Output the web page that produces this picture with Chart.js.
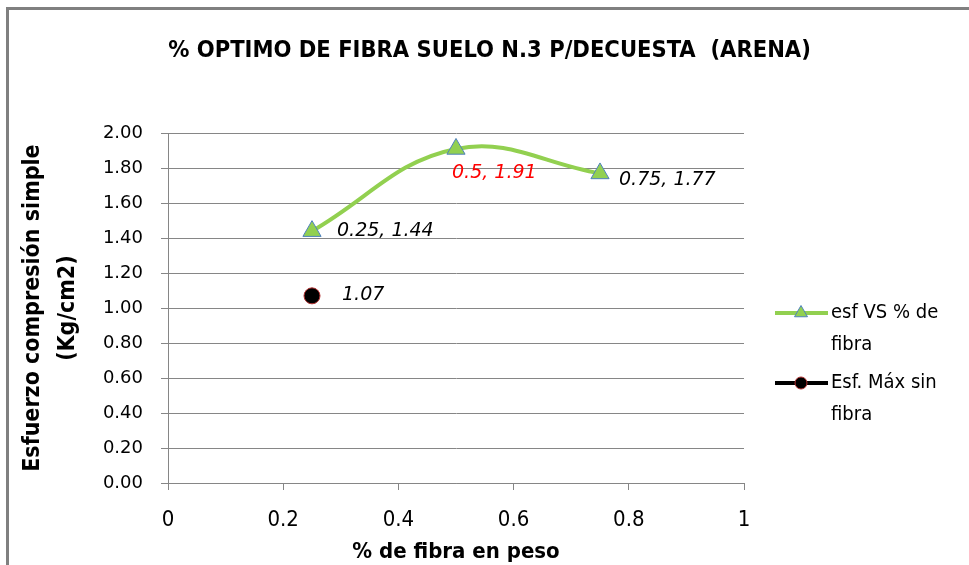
<!DOCTYPE html>
<html>
<head>
<meta charset="utf-8">
<script src="https://cdn.jsdelivr.net/npm/chart.js@4"></script>
<style>
  html, body { margin: 0; padding: 0; background: #fff; }
</style>
</head>
<body>
<canvas id="chart" width="969" height="565"></canvas>
<script>
// data
const fibra = [0.25, 0.5, 0.75];
const esfuerzo = [1.44, 1.91, 1.77];
const sinFibraX = [0.25];
const sinFibraY = [1.07];
const serieNames = [['esf VS % de', 'fibra'], ['Esf. Máx sin', 'fibra']];

const FONT = '"DejaVu Sans Condensed", "DejaVu Sans", sans-serif';
const WIDE = '"DejaVu Sans", sans-serif';
const GRID = '#868686';

// point labels, drawn next to each mark
const pointLabels = {
  id: 'pointLabels',
  afterDatasetsDraw(chart) {
    const ctx = chart.ctx;
    const offs = [[[25, 0], [-4, 24], [19, 7]], [[30, -1]]];
    ctx.save();
    ctx.font = 'italic 19px ' + WIDE;
    ctx.textAlign = 'left';
    ctx.textBaseline = 'middle';
    chart.data.datasets.forEach((ds, di) => {
      chart.getDatasetMeta(di).data.forEach((pt, i) => {
        const raw = ds.data[i];
        const txt = di === 0 ? raw.x + ', ' + raw.y : raw.y.toFixed(2);
        ctx.fillStyle = (di === 0 && i === 1) ? '#ff0000' : '#000';
        ctx.fillText(txt, pt.x + offs[di][i][0], pt.y + offs[di][i][1]);
      });
    });
    ctx.restore();
  }
};

// legend with line + marker, and the outer frame
const sideLegend = {
  id: 'sideLegend',
  afterDraw(chart) {
    const ctx = chart.ctx;
    ctx.save();
    const rows = [313, 383];
    chart.data.datasets.forEach((ds, di) => {
      const y = rows[di];
      ctx.strokeStyle = di === 0 ? ds.borderColor : '#000';
      ctx.lineWidth = 4;
      ctx.beginPath();
      ctx.moveTo(775, y);
      ctx.lineTo(828, y);
      ctx.stroke();
      ctx.lineWidth = 1;
      ctx.fillStyle = ds.pointBackgroundColor;
      ctx.strokeStyle = ds.pointBorderColor;
      Chart.helpers.drawPoint(ctx, {
        pointStyle: ds.pointStyle,
        radius: di === 0 ? 7.5 : 6,
        borderWidth: 1
      }, 801, y);
      ctx.fillStyle = '#000';
      ctx.font = '20px ' + FONT;
      ctx.textBaseline = 'middle';
      serieNames[di].forEach((line, k) => ctx.fillText(line, 831, y + k * 32));
    });
    ctx.strokeStyle = '#808080';
    ctx.lineWidth = 3;
    ctx.beginPath();
    ctx.moveTo(7.5, 600);
    ctx.lineTo(7.5, 8.5);
    ctx.lineTo(975, 8.5);
    ctx.stroke();
    ctx.restore();
  }
};

const ctx = document.getElementById('chart');
new Chart(ctx, {
  type: 'scatter',
  data: {
    datasets: [{
      label: serieNames[0].join(' '),
      data: fibra.map((x, i) => ({ x: x, y: esfuerzo[i] })),
      showLine: true,
      tension: 0.4,
      borderColor: '#92D050',
      borderWidth: 4,
      pointStyle: 'triangle',
      pointRadius: 10.5,
      pointBackgroundColor: '#92D050',
      pointBorderColor: '#4F81BD',
      pointBorderWidth: 1
    }, {
      label: serieNames[1].join(' '),
      data: sinFibraX.map((x, i) => ({ x: x, y: sinFibraY[i] })),
      showLine: false,
      borderColor: '#000',
      pointStyle: 'circle',
      pointRadius: 8,
      pointBackgroundColor: '#000',
      pointBorderColor: '#b03030',
      pointBorderWidth: 1
    }]
  },
  options: {
    responsive: false,
    animation: false,
    devicePixelRatio: 1,
    layout: { padding: { left: 10, right: 0, top: 0, bottom: 0 } },
    plugins: {
      legend: { display: false },
      tooltip: { enabled: false },
      title: {
        display: true,
        text: '% OPTIMO DE FIBRA SUELO N.3 P/DECUESTA  (ARENA)',
        color: '#000',
        font: { family: FONT, size: 23.5, weight: 'bold' },
        padding: { top: 37, bottom: 68 }
      }
    },
    scales: {
      x: {
        type: 'linear',
        min: 0, max: 1,
        ticks: {
          stepSize: 0.2, color: '#000', padding: 17,
          font: { family: FONT, size: 22 },
          callback: v => String(+v.toFixed(1))
        },
        grid: { drawOnChartArea: false, drawTicks: true, tickLength: 7, color: GRID },
        border: { color: GRID },
        title: {
          display: true,
          text: '% de fibra en peso',
          color: '#000',
          font: { family: FONT, size: 22, weight: 'bold' },
          padding: { top: 2, bottom: 0 }
        },
        afterFit(scale) {
          scale.height = 82;
          scale.paddingRight = 225; // room for the side legend
        }
      },
      y: {
        min: 0, max: 2,
        ticks: {
          stepSize: 0.2, color: '#000', padding: 18,
          font: { family: WIDE, size: 18 },
          callback: v => v.toFixed(2)
        },
        grid: { color: GRID, tickLength: 7 },
        border: { color: GRID },
        title: {
          display: true,
          text: ['Esfuerzo compresión simple', '(Kg/cm2)'],
          color: '#000',
          font: { family: FONT, size: 23, weight: 'bold', lineHeight: 1.55 },
          padding: { top: 5, bottom: 0 }
        },
        afterFit(scale) { scale.width = 158; }
      }
    }
  },
  plugins: [pointLabels, sideLegend]
});
</script>
</body>
</html>
